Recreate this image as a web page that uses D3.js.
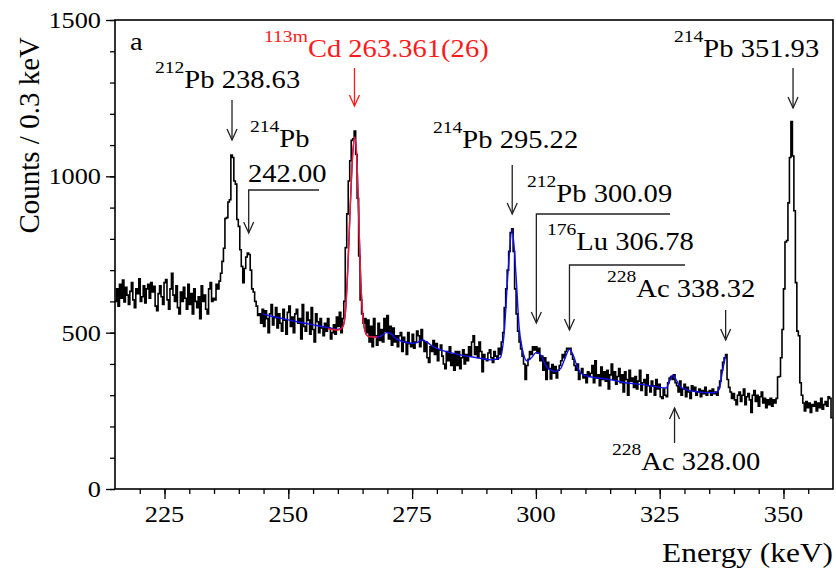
<!DOCTYPE html>
<html>
<head>
<meta charset="utf-8">
<script src="https://cdn.jsdelivr.net/npm/d3@7"></script>
<style>
  body { margin: 0; background: #fff; }
  svg { display: block; }
</style>
</head>
<body>
<svg id="chart" width="836" height="570" font-family="'Liberation Serif', 'Times New Roman', Times, serif"></svg>
<script>
// Gamma spectrum, 0.3 keV bins starting at 215 keV
const binLow = 215;
const binWidth = 0.3;
const counts = [
  600, 640, 585, 655, 610, 668, 598, 645, 620, 590,
  632, 660, 605, 580, 640, 625, 672, 600, 615, 650,
  595, 640, 655, 610, 660, 630, 648, 585, 570, 625,
  650, 615, 590, 660, 670, 605, 575, 640, 690, 620,
  600, 650, 580, 560, 630, 600, 645, 610, 575, 655,
  590, 625, 560, 640, 600, 580, 615, 545, 650, 600,
  620, 575, 560, 640, 660, 600, 610, 605, 655, 640,
  665, 690, 728, 770, 865, 868, 918, 925, 1068, 1060,
  985, 975, 862, 840, 765, 712, 660, 705, 742, 755,
  750, 700, 640, 630, 600, 585, 555, 560, 530, 575,
  520, 570, 545, 500, 560, 590, 525, 548, 580, 515,
  560, 530, 505, 575, 540, 495, 565, 585, 520, 550,
  500, 560, 575, 530, 545, 480, 590, 520, 505, 565,
  540, 495, 580, 510, 470, 560, 535, 500, 545, 515,
  490, 530, 505, 545, 515, 480, 500, 525, 495, 550,
  520, 565, 500, 545, 600, 772, 880, 985, 1050, 1115,
  1120, 1145, 1070, 930, 745, 605, 560, 530, 545, 500,
  540, 470, 520, 455, 545, 490, 460, 530, 475, 510,
  470, 545, 505, 555, 480, 520, 460, 515, 470, 490,
  455, 490, 500, 440, 485, 470, 430, 500, 465, 455,
  495, 450, 470, 505, 490, 455, 510, 475, 440, 470,
  420, 405, 455, 440, 475, 430, 465, 410, 445, 460,
  425, 400, 385, 440, 410, 455, 395, 430, 380, 440,
  395, 440, 385, 420, 445, 400, 430, 410, 455, 425,
  470, 490, 430, 455, 420, 470, 440, 375, 430, 415,
  410, 435, 445, 420, 405, 440, 425, 415, 450, 430,
  470, 500, 580, 640, 700, 760, 820, 832, 760, 640,
  560, 505, 470, 448, 425, 400, 350, 395, 415, 440,
  430, 455, 445, 455, 435, 450, 410, 425, 380, 420,
  350, 405, 385, 352, 398, 370, 392, 355, 380, 395,
  410, 430, 420, 440, 450, 448, 450, 430, 415, 395,
  380, 400, 350, 370, 385, 355, 365, 340, 375, 360,
  370, 395, 340, 410, 355, 365, 330, 390, 350, 375,
  345, 380, 320, 365, 400, 350, 375, 335, 360, 385,
  340, 365, 310, 375, 350, 300, 380, 345, 355, 325,
  360, 320, 345, 380, 315, 340, 350, 300, 365, 330,
  310, 345, 330, 300, 350, 320, 335, 295, 290, 320,
  300, 295, 340, 355, 360, 350, 365, 340, 330, 310,
  345, 300, 320, 335, 295, 325, 310, 290, 330, 315,
  325, 300, 310, 320, 295, 315, 305, 325, 300, 310,
  315, 300, 320, 305, 310, 300, 325, 345, 380, 405,
  420, 430, 350, 325, 310, 290, 305, 285, 270, 300,
  310, 280, 300, 320, 270, 295, 305, 285, 245, 300,
  315, 280, 300, 265, 295, 310, 275, 290, 260, 285,
  270, 290, 265, 285, 275, 290, 358, 360, 420, 510,
  640, 790, 795, 915, 1060, 1175, 1065, 890, 660, 505,
  490, 340, 300, 275, 250, 280, 260, 275, 245, 270,
  265, 280, 250, 275, 260, 290, 255, 270, 280, 265,
  295, 290, 228
];

// Global fit (background + peaks), energy [keV] / counts
const fitBlue = [
  [244.8, 560], [246, 555], [248, 548], [250, 541], [252, 534], [254, 528],
  [256, 522], [258, 516], [259, 513], [260, 510], [261, 520], [261.5, 560],
  [262, 700], [262.5, 900], [263, 1070], [263.4, 1122], [263.8, 1070],
  [264.2, 880], [264.6, 680], [265, 560], [265.5, 505], [266, 490],
  [267, 487], [268, 486], [269, 492], [269.8, 500], [270.6, 498],
  [271.5, 484], [273, 472], [275, 466], [276, 468], [277, 477], [278, 470],
  [279, 458], [280, 450], [282.5, 437], [285, 428], [288, 420], [291, 413],
  [292.8, 420], [293.6, 500], [294.4, 700], [295.2, 830], [296, 680],
  [296.6, 520], [297.3, 445], [298.2, 410], [299, 418], [300.1, 437],
  [301, 428], [302, 395], [303, 380], [304, 376], [305, 385], [305.8, 415],
  [306.8, 447], [307.6, 425], [308.5, 385], [309.5, 366], [311, 359],
  [315, 350], [318, 340], [322, 333], [325, 325], [326.3, 323], [327, 345],
  [327.6, 364], [328.3, 350], [329, 330], [330, 320], [333, 310], [336, 308],
  [337, 318], [337.6, 370], [338.3, 425]
];

// 113mCd peak fit
const fitRed = [
  [258, 512], [259, 510], [260, 508], [261, 518], [261.5, 560], [262, 700],
  [262.5, 900], [263, 1070], [263.4, 1125], [263.8, 1070], [264.2, 880],
  [264.6, 680], [265, 560], [265.5, 505], [266, 490], [267, 486], [268, 486]
];

const xMajor = [225, 250, 275, 300, 325, 350];
const yMajor = [0, 500, 1000, 1500];

const peakLabels = [
  { iso: "212",  el: "Pb", energy: 238.63,  txt: "238.63" },
  { iso: "214",  el: "Pb", energy: 242.00,  txt: "242.00" },
  { iso: "113m", el: "Cd", energy: 263.361, txt: "263.361(26)" },
  { iso: "214",  el: "Pb", energy: 295.22,  txt: "295.22" },
  { iso: "212",  el: "Pb", energy: 300.09,  txt: "300.09" },
  { iso: "176",  el: "Lu", energy: 306.78,  txt: "306.78" },
  { iso: "228",  el: "Ac", energy: 338.32,  txt: "338.32" },
  { iso: "228",  el: "Ac", energy: 328.00,  txt: "328.00" },
  { iso: "214",  el: "Pb", energy: 351.93,  txt: "351.93" }
];

// ---------------------------------------------------------------
const FONT = "'Liberation Serif', 'Times New Roman', Times, serif";
const svg = d3.select("#chart");
const L = 115, R = 833, T = 20, B = 489;
const stretch = 1.12;

const x = d3.scaleLinear().domain([215, 360]).range([L, R]);
const y = d3.scaleLinear().domain([0, 1500]).range([B, T]);

// Axes: ticks pointing outwards, labels drawn separately
const xMinor = d3.range(220, 360, 5);
const yMinor = d3.range(0, 1501, 100);

function tickGroup(axis, tf) {
  svg.append("g").attr("transform", tf)
    .call(axis.tickFormat(""))
    .call(g => g.select(".domain").remove())
    .selectAll("line").attr("stroke", "#000").attr("stroke-width", 1.3);
}
tickGroup(d3.axisBottom(x).tickValues(xMinor).tickSize(5), `translate(0,${B})`);
tickGroup(d3.axisBottom(x).tickValues(xMajor).tickSize(10), `translate(0,${B})`);
tickGroup(d3.axisLeft(y).tickValues(yMinor).tickSize(5), `translate(${L},0)`);
tickGroup(d3.axisLeft(y).tickValues(yMajor).tickSize(9), `translate(${L},0)`);

// Frame
svg.append("rect")
  .attr("x", L).attr("y", T).attr("width", R - L).attr("height", B - T)
  .attr("fill", "none").attr("stroke", "#000").attr("stroke-width", 1.6);

// Text helper: horizontally stretched serif text
function stext(px, py, str, size, anchor, color) {
  return svg.append("text")
    .attr("transform", `translate(${px},${py}) scale(${stretch},1)`)
    .attr("font-family", FONT)
    .attr("font-size", size)
    .attr("text-anchor", anchor || "start")
    .attr("fill", color || "#000")
    .text(str);
}

xMajor.forEach(v => stext(x(v), 522, String(v), 23.5, "middle"));
yMajor.forEach(v => stext(101, y(v) + 8, String(v), 23.5, "end"));

stext(R, 562, "Energy (keV)", 28, "end");
svg.append("text")
  .attr("transform", `translate(39,37) rotate(-90)`)
  .attr("font-family", FONT)
  .attr("font-size", 29)
  .attr("text-anchor", "end")
  .text("Counts / 0.3 keV");

stext(130, 50, "a", 25.5, "start");

// Histogram as a step line
const pts = counts.map((c, i) => [binLow + i * binWidth, c]);
pts.push([binLow + counts.length * binWidth, counts[counts.length - 1]]);
svg.append("path")
  .datum(pts)
  .attr("fill", "none")
  .attr("stroke", "#000")
  .attr("stroke-width", 1.6)
  .attr("d", d3.line().x(d => x(d[0])).y(d => y(d[1])).curve(d3.curveStepAfter));

// Fit curves
const fitLine = d3.line().x(d => x(d[0])).y(d => y(d[1])).curve(d3.curveMonotoneX);
svg.append("path").datum(fitBlue)
  .attr("fill", "none").attr("stroke", "#1010ee").attr("stroke-width", 1.4)
  .attr("d", fitLine);
svg.append("path").datum(fitRed)
  .attr("fill", "none").attr("stroke", "#ff1a1a").attr("stroke-width", 1.4)
  .attr("d", fitLine);

// Peak labels
const supSize = 17.5, mainSize = 25.5, supRise = 15;
function nuclideText(px, py, lab, color, secondLine) {
  const t = svg.append("text")
    .attr("transform", `translate(${px},${py}) scale(${stretch},1)`)
    .attr("font-family", FONT)
    .attr("fill", color || "#000");
  t.append("tspan").attr("font-size", supSize).attr("dy", -supRise).text(lab.iso);
  t.append("tspan").attr("font-size", mainSize).attr("dy", supRise)
    .text(secondLine ? lab.el : lab.el + " " + lab.txt);
  return t;
}

function arrowHead(g, tx, ty, dir, color) {
  const h = 11, w = 5;
  const s = dir === "down" ? -1 : 1;
  g.append("path")
    .attr("d", `M${tx - w},${ty + s * h}L${tx},${ty}L${tx + w},${ty + s * h}`)
    .attr("fill", "none").attr("stroke", color).attr("stroke-width", 1.3);
}

const arrows = svg.append("g");
function arrowDown(energy, y0, y1, color) {
  const c = color || "#222";
  const ax0 = x(energy);
  arrows.append("line").attr("x1", ax0).attr("x2", ax0).attr("y1", y0).attr("y2", y1)
    .attr("stroke", c).attr("stroke-width", 1.3);
  arrowHead(arrows, ax0, y1, "down", c);
}
function arrowUp(energy, y0, y1) {
  const ax0 = x(energy);
  arrows.append("line").attr("x1", ax0).attr("x2", ax0).attr("y1", y0).attr("y2", y1)
    .attr("stroke", "#222").attr("stroke-width", 1.3);
  arrowHead(arrows, ax0, y1, "up", "#222");
}
function bracket(energy, xEnd, yh, yTip) {
  const ax0 = x(energy);
  arrows.append("path")
    .attr("d", `M${xEnd},${yh}L${ax0},${yh}L${ax0},${yTip}`)
    .attr("fill", "none").attr("stroke", "#222").attr("stroke-width", 1.3);
  arrowHead(arrows, ax0, yTip, "down", "#222");
}

const [pb238, pb242, cd263, pb295, pb300, lu306, ac338, ac328, pb351] = peakLabels;

nuclideText(155, 88, pb238);
arrowDown(pb238.energy, 100, 140);

nuclideText(250, 147, pb242, "#000", true);
stext(248, 182, pb242.txt, mainSize, "start");
bracket(pb242.energy, 319, 190, 233);

nuclideText(264, 57, cd263, "#ff1a1a");
arrowDown(cd263.energy, 68, 106, "#ff1a1a");

nuclideText(433, 148, pb295);
arrowDown(pb295.energy, 165, 214);

nuclideText(527, 202, pb300);
bracket(pb300.energy, 670, 214, 323);

nuclideText(547, 250, lu306);
bracket(lu306.energy, 685, 265, 330);

nuclideText(607, 297, ac338);
arrowDown(ac338.energy, 310, 340);

nuclideText(612, 470, ac328);
arrowUp(ac328.energy, 443, 408);

nuclideText(674, 57, pb351);
arrowDown(pb351.energy, 68, 108);
</script>
</body>
</html>
